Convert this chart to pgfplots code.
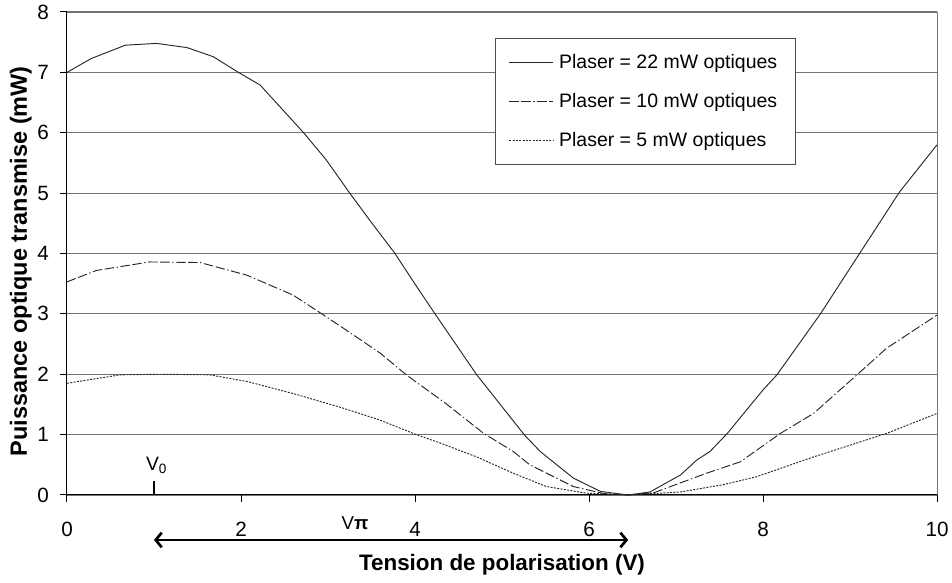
\documentclass[border=0pt]{standalone}
\usepackage{fontspec}
\setmainfont{Liberation Sans}
\usepackage{pgfplots}
\pgfplotsset{compat=1.18}
\usetikzlibrary{arrows.meta,calc}

% puissance transmise (mW) vs tension de polarisation (V)
\pgfplotstableread{
V P
0    7.00
0.28 7.23
0.67 7.45
1.03 7.48
1.38 7.41
1.68 7.26
1.97 7.00
2.22 6.79
2.72 6.00
2.98 5.55
3.25 5.00
3.48 4.55
3.77 4.00
4.02 3.45
4.23 3.00
4.71 1.99
5.26 0.99
5.44 0.72
5.82 0.28
6.13 0.06
6.45 0.00
6.70 0.05
7.05 0.33
7.24 0.58
7.39 0.72
7.59 1.02
8.00 1.74
8.16 1.99
8.66 3.00
9.11 4.00
9.57 5.02
10.0 5.80
}\pviii

\pgfplotstableread{
V P
0    3.53
0.34 3.72
0.95 3.86
1.53 3.85
2.07 3.64
2.60 3.31
2.95 2.98
3.18 2.76
3.60 2.35
3.90 1.99
4.35 1.52
4.79 1.02
5.13 0.72
5.32 0.50
5.82 0.14
6.15 0.03
6.45 0.00
6.75 0.04
7.05 0.20
7.35 0.36
7.74 0.55
8.20 1.02
8.58 1.35
9.08 1.99
9.42 2.43
10.0 2.98
}\pten

\pgfplotstableread{
V P
0    1.85
0.61 1.99
1.07 2.00
1.64 1.99
2.07 1.88
2.60 1.68
3.17 1.44
3.60 1.24
3.98 1.02
4.29 0.86
4.71 0.63
5.13 0.36
5.51 0.14
5.97 0.03
6.45 0.00
7.05 0.05
7.54 0.17
7.92 0.30
8.58 0.63
9.42 1.02
10.0 1.35
}\pfive

\begin{document}
\begin{tikzpicture}
\begin{axis}[
    scale only axis,
    width=652.5pt, height=362.25pt,
    xmin=0, xmax=10, ymin=0, ymax=8,
    xtick={0,2,...,10}, ytick={0,1,...,8},
    axis lines*=left,
    axis line style={black, line width=0.75pt, -},
    tick align=outside,
    major tick length=5pt,
    tick style={black, line width=0.75pt},
    ymajorgrids,
    major grid style={black!55, line width=0.9pt},
    /pgf/number format/assume math mode=true,
    tick label style={font=\fontsize{15.5}{18}\selectfont},
    xticklabel style={yshift=-12pt},
    yticklabel style={xshift=-5pt},
    xlabel={\textbf{Tension de polarisation (V)}},
    ylabel={\textbf{Puissance optique transmise (mW)}},
    xlabel style={font=\fontsize{16.8}{19}\selectfont,
        at={(axis description cs:0.5,-0.145)}, anchor=center},
    ylabel style={font=\fontsize{17.6}{20}\selectfont,
        at={(axis description cs:-0.053,0.484)}, anchor=center},
    clip=false,
    legend style={at={(axis cs:4.92,7.57)}, anchor=north west,
        draw=black!70, line width=0.75pt, fill=white,
        font=\fontsize{14.6}{17}\selectfont,
        inner xsep=10pt, inner ysep=10pt, row sep=13pt,
        nodes={inner xsep=4pt}},
    legend cell align=left,
    legend image code/.code={\draw[#1] (0pt,0pt) -- (33pt,0pt);},
]
\addplot[black!85, line width=0.7pt] table[x=V, y=P] {\pviii};
\addplot[black!85, line width=0.7pt, dash pattern=on 7pt off 2pt on 7pt off 2pt on 1pt off 2pt] table[x=V, y=P] {\pten};
\addplot[black!85, line width=0.7pt, dash pattern=on 1.5pt off 1pt] table[x=V, y=P] {\pfive};
\legend{Plaser = 22 mW optiques, Plaser = 10 mW optiques, Plaser = 5 mW optiques}

\draw[black!55, line width=0.75pt] (axis cs:10,0) -- (axis cs:10,8);
\draw[black, line width=1.6pt] (axis cs:1,0) -- (axis cs:1,0.23);
\node[font=\fontsize{14.5}{17}\selectfont, anchor=south] at (axis cs:1.03,0.27) {V\textsubscript{0}};
\draw[black, line width=2pt, {Straight Barb[length=4.5pt,width=11pt]}-{Straight Barb[length=4.5pt,width=11pt]}]
    (axis cs:1,-0.745) -- (axis cs:6.45,-0.745);
\node[font=\fontsize{14}{17}\selectfont] at (axis cs:3.31,-0.47) {V\textbf{π}};
\end{axis}
\pgfresetboundingbox
\path[use as bounding box] ($(current axis.south west)+(-50.25pt,-66pt)$)
    rectangle ($(current axis.north east)+(11.25pt,9pt)$);
\end{tikzpicture}
\end{document}
